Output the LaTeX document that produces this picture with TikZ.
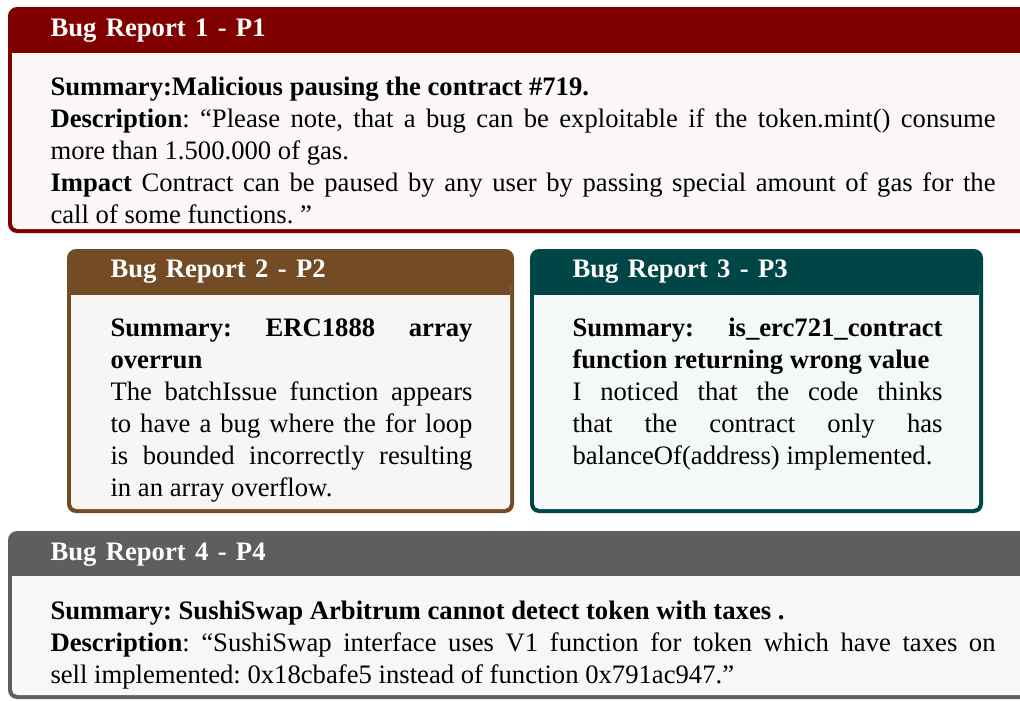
\documentclass[tikz,border=0pt]{standalone}
\usepackage{fontspec}
\setmainfont{Liberation Serif}
\usepackage{xcolor}
\usepackage{tikz}

\tikzset{
  frameout/.style={fill=#1, rounded corners=3.4pt},
  backin/.style={fill=#1, rounded corners=2pt},
  boxtitle/.style={text=white, inner sep=0pt, anchor=base west,
    font=\bfseries\fontsize{10}{12}\selectfont,
    execute at begin node={\spaceskip=3.5pt plus 1pt}},
  boxbody/.style={text=black, inner sep=0pt, anchor=base west, text width=#1,
    align=justify, font=\fontsize{10}{12}\selectfont,
    execute at begin node={\frenchspacing\hyphenpenalty=10000\exhyphenpenalty=10000\tolerance=9999\emergencystretch=2em}}
}

\begin{document}
\begin{tikzpicture}[x=0.375pt, y=-0.375pt]
    \useasboundingbox (0,0) rectangle (1020,700);
    \clip (0,0) rectangle (1020,700);
    % report 1
    \fill[frameout=red!50!black] (8,7) rectangle (1037,233);
    \fill[backin=red!50!black!3] (12,40) rectangle (1033,229);
    \fill[red!50!black] (12,40) rectangle (1033,52.5);
    \node[boxtitle] (title1) at (50,36) {Bug Report 1 - P1};
    \node[boxbody=354.4pt] (body1) at (50,95) {%
      \textbf{Summary:Malicious pausing the contract \#719.}\\
      \textbf{Description}: “Please note, that a bug can be exploitable if the token.mint() consume\linebreak
      more than 1.500.000 of gas.\\
      \textbf{Impact} Contract can be paused by any user by passing special amount of gas for the\linebreak
      call of some functions. ”};
    % report 2
    \fill[frameout=brown!60!black] (67,249) rectangle (514,513);
    \fill[backin=brown!60!black!5] (71,280) rectangle (510,509);
    \fill[brown!60!black] (71,280) rectangle (510,295);
    \node[boxtitle] (title2) at (110,277) {Bug Report 2 - P2};
    \node[boxbody=135.75pt] (body2) at (110,336) {%
      \textbf{Summary: ERC1888 array\linebreak overrun}\\
      The batchIssue function appears\linebreak to have a bug where the for loop\linebreak
      is bounded incorrectly resulting\linebreak in an array overflow.};
    % report 3
    \fill[frameout=teal!55!black] (530,249) rectangle (983,513);
    \fill[backin=teal!55!black!4] (534,280) rectangle (979,509);
    \fill[teal!55!black] (534,280) rectangle (979,295);
    \node[boxtitle] (title3) at (572,277) {Bug Report 3 - P3};
    \node[boxbody=138.75pt] (body3) at (572,336) {%
      \textbf{Summary: is\_erc721\_contract\linebreak function returning wrong value}\\
      I noticed that the code thinks\linebreak that the contract only has\linebreak
      balanceOf(address) implemented.};
    % report 4
    \fill[frameout=black!63] (8,531) rectangle (1037,699);
    \fill[backin=black!3] (12,560) rectangle (1033,695);
    \fill[black!63] (12,560) rectangle (1033,576);
    \node[boxtitle] (title4) at (50,560) {Bug Report 4 - P4};
    \node[boxbody=354.4pt] (body4) at (50,619) {%
      \textbf{Summary: SushiSwap Arbitrum cannot detect token with taxes .}\\
      \textbf{Description}: “SushiSwap interface uses V1 function for token which have taxes on\linebreak
      sell implemented: 0x18cbafe5 instead of function 0x791ac947.”};
\end{tikzpicture}
\end{document}
